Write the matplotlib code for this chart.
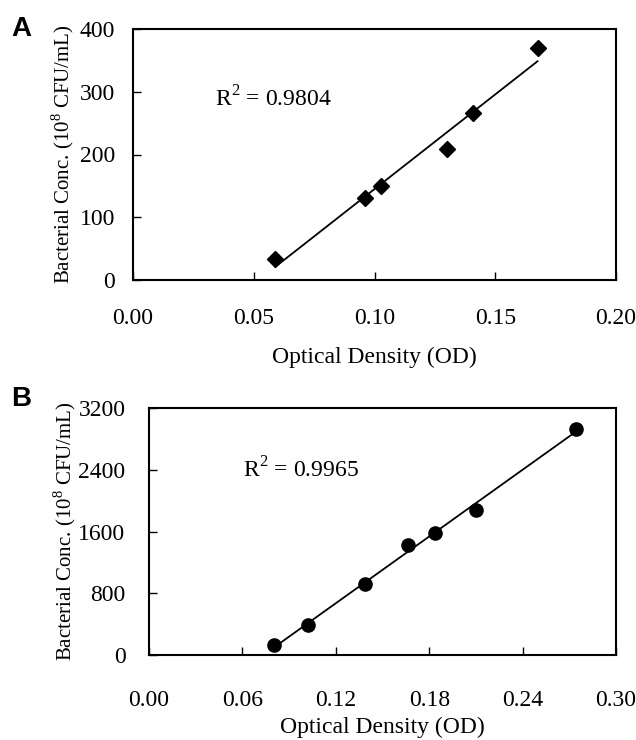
import numpy as np
import matplotlib
matplotlib.use("Agg")
import matplotlib.pyplot as plt

plt.rcParams['font.family'] = ['Liberation Serif', 'DejaVu Serif']
plt.rcParams['mathtext.fontset'] = 'custom'
plt.rcParams['mathtext.rm'] = 'Liberation Serif'

# Panel A data
od_a = [0.0589, 0.0962, 0.1026, 0.1302, 0.1409, 0.1675]
conc_a = [34, 131, 150, 209, 266, 370]
xticks_a = [0.00, 0.05, 0.10, 0.15, 0.20]
yticks_a = [0, 100, 200, 300, 400]
r2_a = "0.9804"

# Panel B data
od_b = [0.0806, 0.1024, 0.1389, 0.1662, 0.1838, 0.2098, 0.2746]
conc_b = [124, 394, 921, 1422, 1581, 1876, 2934]
xticks_b = [0.00, 0.06, 0.12, 0.18, 0.24, 0.30]
yticks_b = [0, 800, 1600, 2400, 3200]
r2_b = "0.9965"

W, H = 636, 740
fig = plt.figure(figsize=(W/100, H/100), dpi=100)

def axrect(l, r, t, b):
    return [l/W, 1-b/H, (r-l)/W, (b-t)/H]

boxA = (133, 616, 29, 280)
boxB = (149, 616, 408, 655)
axA = fig.add_axes(axrect(*boxA))
axB = fig.add_axes(axrect(*boxB))

def style(ax, box, od, conc, xt, yt, marker, ms, r2, r2xy, letter, lxy,
          xpad, ypad, xlab_y, ylab_x):
    l, r, t, b = box
    ax.plot(od, conc, linestyle='none', marker=marker, color='black', markersize=ms)
    p = np.polyfit(od, conc, 1)
    xs = np.array([min(od), max(od)])
    ax.plot(xs, np.polyval(p, xs), color='black', linewidth=1.3)
    ax.set_xlim(xt[0], xt[-1])
    ax.set_ylim(yt[0], yt[-1])
    ax.set_xticks(xt)
    ax.set_xticklabels([f"{v:.2f}" for v in xt])
    ax.set_yticks(yt)
    ax.set_yticklabels([str(v) for v in yt])
    ax.tick_params(axis='x', direction='in', length=6, width=1, pad=xpad, labelsize=17)
    ax.tick_params(axis='y', direction='in', length=6, width=1, pad=ypad, labelsize=17)
    for s in ax.spines.values():
        s.set_linewidth(1.5)
    ax.set_xlabel("Optical Density (OD)", fontsize=17)
    ax.xaxis.label.set_va('center')
    ax.xaxis.set_label_coords(0.5, (b - xlab_y) / (b - t))
    ax.set_ylabel(r"Bacterial Conc. (10$^{8}$ CFU/mL)", fontsize=15)
    ax.yaxis.label.set_va('center')
    ax.yaxis.set_label_coords((ylab_x - l) / (r - l), 0.5)
    ax.text((r2xy[0] - l) / (r - l), (b - r2xy[1]) / (b - t), r"R$^{2}$ = " + r2,
            transform=ax.transAxes, fontsize=17, ha='left', va='center')
    fig.text(lxy[0]/W, 1-lxy[1]/H, letter, fontsize=20, fontweight='bold',
             family='Liberation Sans', ha='left', va='center')

style(axA, boxA, od_a, conc_a, xticks_a, yticks_a, 'D', 8.5, r2_a, (215, 99),
      'A', (11, 29), 20.5, 13, 357, 63)
style(axB, boxB, od_b, conc_b, xticks_b, yticks_b, 'o', 9.5, r2_b, (243, 470),
      'B', (11, 399), 25.5, 17, 727, 65)

fig.savefig("out.png", dpi=100)
